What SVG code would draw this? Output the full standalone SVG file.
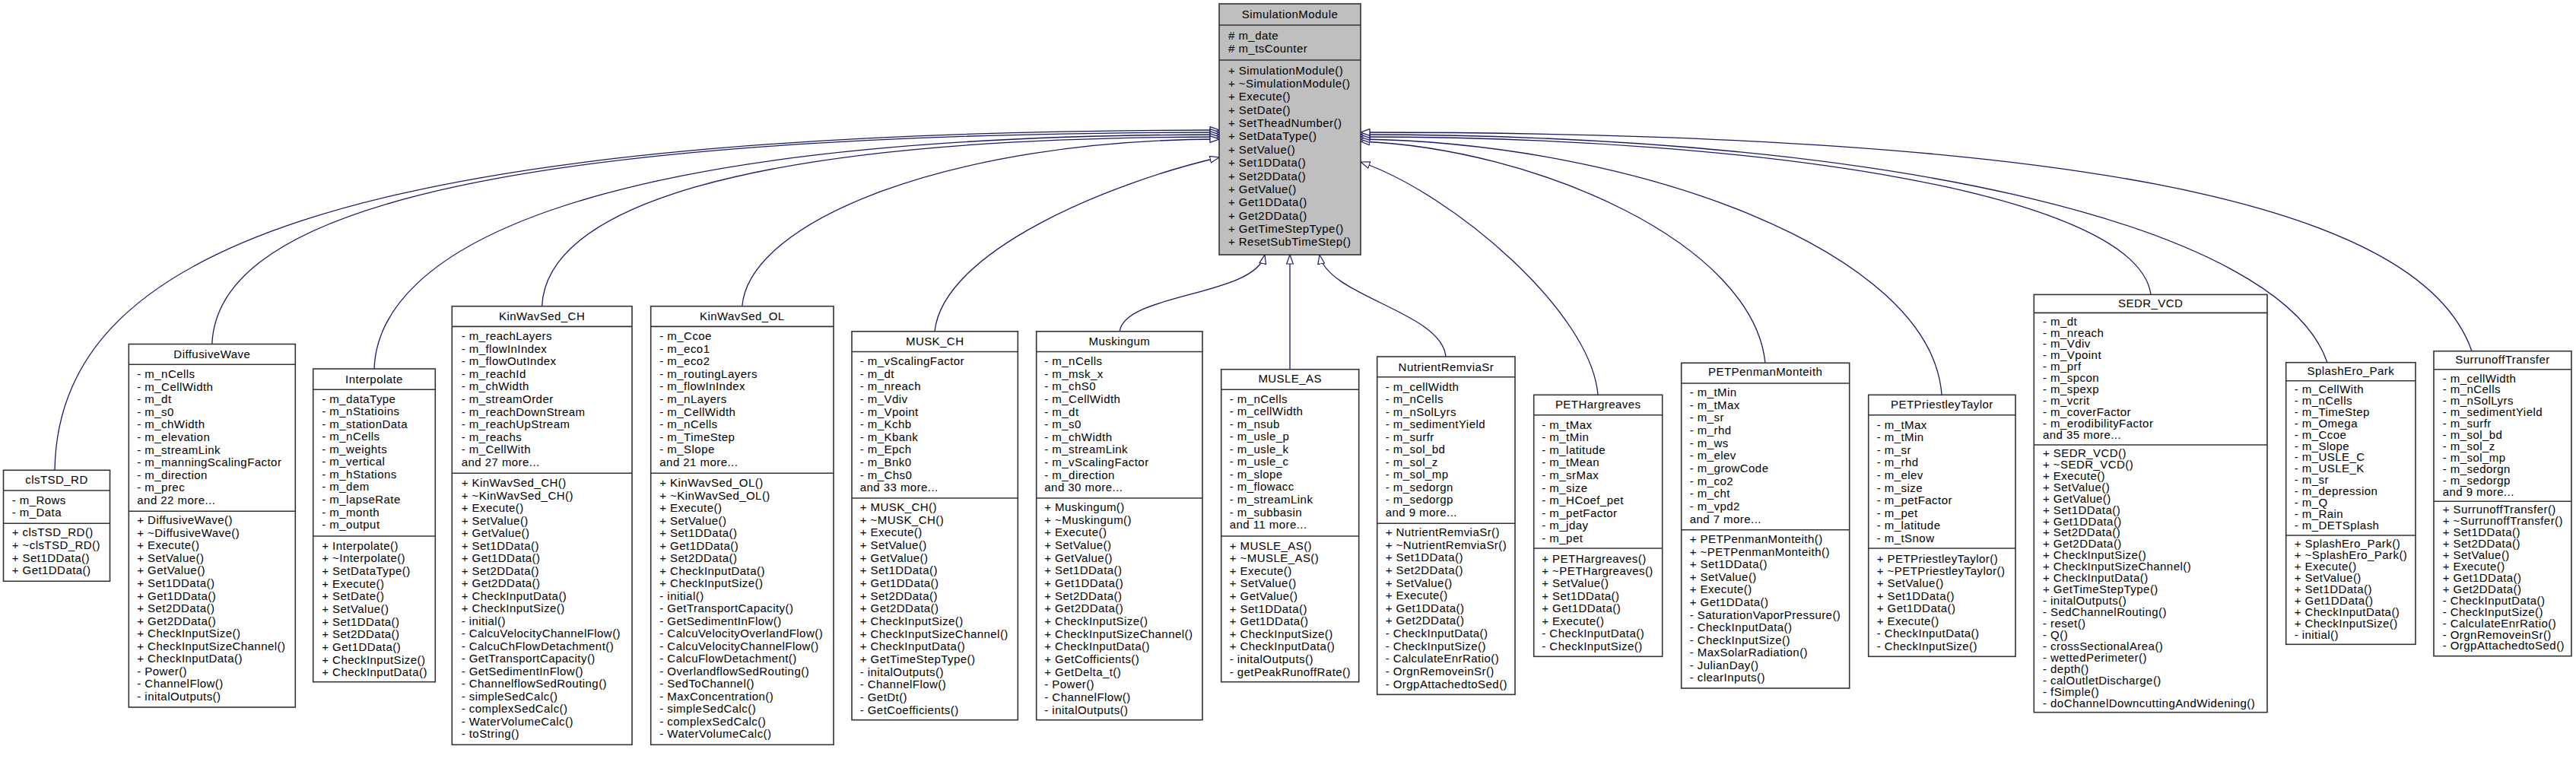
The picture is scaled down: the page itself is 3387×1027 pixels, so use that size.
<svg xmlns="http://www.w3.org/2000/svg" width="3387" height="1027" viewBox="0 0 3387 1027">
<style>
.t{font-family:"Liberation Sans",Arial,Helvetica,sans-serif;font-size:15px;letter-spacing:0.45px;fill:#000}
.c{text-anchor:middle}
.box{fill:#fff;stroke:#333;stroke-width:1.6}
.base{fill:#bfbfbf;stroke:#333;stroke-width:1.6}
.dv{stroke:#333;stroke-width:1.6}
.edge{fill:none;stroke:#191970;stroke-width:1.3;marker-end:url(#inh)}
</style>
<defs>
<marker id="inh" viewBox="0 0 13 10" refX="12.5" refY="5" markerWidth="13" markerHeight="10" markerUnits="userSpaceOnUse" orient="auto">
<path d="M0.5,0.6 L12.5,5 L0.5,9.4 Z" fill="#fff" stroke="#191970" stroke-width="1.2"/>
</marker>
</defs>
<rect width="3387" height="1027" fill="#fff"/>
<g id="connectors">
<path class="edge" d="M72,618.3 C76,340 420,172 1603,171"/>
<path class="edge" d="M278.8,452.5 C285,300 560,175 1603,174"/>
<path class="edge" d="M492,485 C498,330 760,178 1603,177"/>
<path class="edge" d="M712.6,402.7 C718,280 950,181 1603,180"/>
<path class="edge" d="M975.8,402.7 C985,290 1250,184 1603,183"/>
<path class="edge" d="M1229,435.8 C1240,330 1460,240 1603,207"/>
<path class="edge" d="M1472,435.8 C1480,385 1650,390 1663,335"/>
<path class="edge" d="M1696,485.7 L1696,335"/>
<path class="edge" d="M1901,469 C1896,410 1745,390 1735,335"/>
<path class="edge" d="M2101,519.3 C2092,410 1910,255 1789,213"/>
<path class="edge" d="M2321,477.3 C2305,320 2020,195 1789,186"/>
<path class="edge" d="M2553,519.3 C2540,330 2150,188 1789,183"/>
<path class="edge" d="M2828,387.4 C2810,255 2320,180 1789,180"/>
<path class="edge" d="M3060,476.7 C3000,300 2500,177 1789,177"/>
<path class="edge" d="M3250,461.7 C3180,260 2700,174 1789,174"/>
</g>
<g id="SimulationModule">
<rect class="base" x="1603" y="5" width="186" height="330"/>
<line class="dv" x1="1603" y1="33" x2="1789" y2="33"/>
<line class="dv" x1="1603" y1="79" x2="1789" y2="79"/>
<text class="t c" x="1696" y="24.2">SimulationModule</text>
<text class="t" x="1615" y="51.9"><tspan x="1615"># m_date</tspan><tspan x="1615" dy="16.8"># m_tsCounter</tspan></text>
<text class="t" x="1615" y="97.5"><tspan x="1615">+ SimulationModule()</tspan><tspan x="1615" dy="17.38">+ ~SimulationModule()</tspan><tspan x="1615" dy="17.38">+ Execute()</tspan><tspan x="1615" dy="17.38">+ SetDate()</tspan><tspan x="1615" dy="17.38">+ SetTheadNumber()</tspan><tspan x="1615" dy="17.38">+ SetDataType()</tspan><tspan x="1615" dy="17.38">+ SetValue()</tspan><tspan x="1615" dy="17.38">+ Set1DData()</tspan><tspan x="1615" dy="17.38">+ Set2DData()</tspan><tspan x="1615" dy="17.38">+ GetValue()</tspan><tspan x="1615" dy="17.38">+ Get1DData()</tspan><tspan x="1615" dy="17.38">+ Get2DData()</tspan><tspan x="1615" dy="17.38">+ GetTimeStepType()</tspan><tspan x="1615" dy="17.38">+ ResetSubTimeStep()</tspan></text>
</g>
<g id="clsTSD_RD">
<rect class="box" x="4.5" y="618.3" width="140" height="146"/>
<line class="dv" x1="4.5" y1="645" x2="144.5" y2="645"/>
<line class="dv" x1="4.5" y1="688.3" x2="144.5" y2="688.3"/>
<text class="t c" x="74.5" y="635.9">clsTSD_RD</text>
<text class="t" x="15.7" y="662.9"><tspan x="15.7">- m_Rows</tspan><tspan x="15.7" dy="16.4">- m_Data</tspan></text>
<text class="t" x="15.7" y="705.2"><tspan x="15.7">+ clsTSD_RD()</tspan><tspan x="15.7" dy="16.67">+ ~clsTSD_RD()</tspan><tspan x="15.7" dy="16.67">+ Set1DData()</tspan><tspan x="15.7" dy="16.67">+ Get1DData()</tspan></text>
</g>
<g id="DiffusiveWave">
<rect class="box" x="169.3" y="452.5" width="219" height="477.5"/>
<line class="dv" x1="169.3" y1="479.2" x2="388.3" y2="479.2"/>
<line class="dv" x1="169.3" y1="672.3" x2="388.3" y2="672.3"/>
<text class="t c" x="278.8" y="470.5">DiffusiveWave</text>
<text class="t" x="180.3" y="496.9"><tspan x="180.3">- m_nCells</tspan><tspan x="180.3" dy="16.6">- m_CellWidth</tspan><tspan x="180.3" dy="16.6">- m_dt</tspan><tspan x="180.3" dy="16.6">- m_s0</tspan><tspan x="180.3" dy="16.6">- m_chWidth</tspan><tspan x="180.3" dy="16.6">- m_elevation</tspan><tspan x="180.3" dy="16.6">- m_streamLink</tspan><tspan x="180.3" dy="16.6">- m_manningScalingFactor</tspan><tspan x="180.3" dy="16.6">- m_direction</tspan><tspan x="180.3" dy="16.6">- m_prec</tspan><tspan x="180.3" dy="16.6">and 22 more...</tspan></text>
<text class="t" x="180.3" y="689.2"><tspan x="180.3">+ DiffusiveWave()</tspan><tspan x="180.3" dy="16.55">+ ~DiffusiveWave()</tspan><tspan x="180.3" dy="16.55">+ Execute()</tspan><tspan x="180.3" dy="16.55">+ SetValue()</tspan><tspan x="180.3" dy="16.55">+ GetValue()</tspan><tspan x="180.3" dy="16.55">+ Set1DData()</tspan><tspan x="180.3" dy="16.55">+ Get1DData()</tspan><tspan x="180.3" dy="16.55">+ Set2DData()</tspan><tspan x="180.3" dy="16.55">+ Get2DData()</tspan><tspan x="180.3" dy="16.55">+ CheckInputSize()</tspan><tspan x="180.3" dy="16.55">+ CheckInputSizeChannel()</tspan><tspan x="180.3" dy="16.55">+ CheckInputData()</tspan><tspan x="180.3" dy="16.55">- Power()</tspan><tspan x="180.3" dy="16.55">- ChannelFlow()</tspan><tspan x="180.3" dy="16.55">- initalOutputs()</tspan></text>
</g>
<g id="Interpolate">
<rect class="box" x="411.7" y="485" width="160.6" height="411.7"/>
<line class="dv" x1="411.7" y1="512.3" x2="572.3" y2="512.3"/>
<line class="dv" x1="411.7" y1="705" x2="572.3" y2="705"/>
<text class="t c" x="492" y="503.5">Interpolate</text>
<text class="t" x="423.3" y="529.5"><tspan x="423.3">- m_dataType</tspan><tspan x="423.3" dy="16.57">- m_nStatioins</tspan><tspan x="423.3" dy="16.57">- m_stationData</tspan><tspan x="423.3" dy="16.57">- m_nCells</tspan><tspan x="423.3" dy="16.57">- m_weights</tspan><tspan x="423.3" dy="16.57">- m_vertical</tspan><tspan x="423.3" dy="16.57">- m_hStations</tspan><tspan x="423.3" dy="16.57">- m_dem</tspan><tspan x="423.3" dy="16.57">- m_lapseRate</tspan><tspan x="423.3" dy="16.57">- m_month</tspan><tspan x="423.3" dy="16.57">- m_output</tspan></text>
<text class="t" x="423.3" y="722.5"><tspan x="423.3">+ Interpolate()</tspan><tspan x="423.3" dy="16.67">+ ~Interpolate()</tspan><tspan x="423.3" dy="16.67">+ SetDataType()</tspan><tspan x="423.3" dy="16.67">+ Execute()</tspan><tspan x="423.3" dy="16.67">+ SetDate()</tspan><tspan x="423.3" dy="16.67">+ SetValue()</tspan><tspan x="423.3" dy="16.67">+ Set1DData()</tspan><tspan x="423.3" dy="16.67">+ Set2DData()</tspan><tspan x="423.3" dy="16.67">+ Get1DData()</tspan><tspan x="423.3" dy="16.67">+ CheckInputSize()</tspan><tspan x="423.3" dy="16.67">+ CheckInputData()</tspan></text>
</g>
<g id="KinWavSed_CH">
<rect class="box" x="594.3" y="402.7" width="236.7" height="576.6"/>
<line class="dv" x1="594.3" y1="429.4" x2="831" y2="429.4"/>
<line class="dv" x1="594.3" y1="622.3" x2="831" y2="622.3"/>
<text class="t c" x="712.6" y="420.8">KinWavSed_CH</text>
<text class="t" x="606.7" y="447.2"><tspan x="606.7">- m_reachLayers</tspan><tspan x="606.7" dy="16.57">- m_flowInIndex</tspan><tspan x="606.7" dy="16.57">- m_flowOutIndex</tspan><tspan x="606.7" dy="16.57">- m_reachId</tspan><tspan x="606.7" dy="16.57">- m_chWidth</tspan><tspan x="606.7" dy="16.57">- m_streamOrder</tspan><tspan x="606.7" dy="16.57">- m_reachDownStream</tspan><tspan x="606.7" dy="16.57">- m_reachUpStream</tspan><tspan x="606.7" dy="16.57">- m_reachs</tspan><tspan x="606.7" dy="16.57">- m_CellWith</tspan><tspan x="606.7" dy="16.57">and 27 more...</tspan></text>
<text class="t" x="606.7" y="640.2"><tspan x="606.7">+ KinWavSed_CH()</tspan><tspan x="606.7" dy="16.5">+ ~KinWavSed_CH()</tspan><tspan x="606.7" dy="16.5">+ Execute()</tspan><tspan x="606.7" dy="16.5">+ SetValue()</tspan><tspan x="606.7" dy="16.5">+ GetValue()</tspan><tspan x="606.7" dy="16.5">+ Set1DData()</tspan><tspan x="606.7" dy="16.5">+ Get1DData()</tspan><tspan x="606.7" dy="16.5">+ Set2DData()</tspan><tspan x="606.7" dy="16.5">+ Get2DData()</tspan><tspan x="606.7" dy="16.5">+ CheckInputData()</tspan><tspan x="606.7" dy="16.5">+ CheckInputSize()</tspan><tspan x="606.7" dy="16.5">- initial()</tspan><tspan x="606.7" dy="16.5">- CalcuVelocityChannelFlow()</tspan><tspan x="606.7" dy="16.5">- CalcuChFlowDetachment()</tspan><tspan x="606.7" dy="16.5">- GetTransportCapacity()</tspan><tspan x="606.7" dy="16.5">- GetSedimentInFlow()</tspan><tspan x="606.7" dy="16.5">- ChannelflowSedRouting()</tspan><tspan x="606.7" dy="16.5">- simpleSedCalc()</tspan><tspan x="606.7" dy="16.5">- complexSedCalc()</tspan><tspan x="606.7" dy="16.5">- WaterVolumeCalc()</tspan><tspan x="606.7" dy="16.5">- toString()</tspan></text>
</g>
<g id="KinWavSed_OL">
<rect class="box" x="855.7" y="402.7" width="240.3" height="576.6"/>
<line class="dv" x1="855.7" y1="429.4" x2="1096" y2="429.4"/>
<line class="dv" x1="855.7" y1="622.3" x2="1096" y2="622.3"/>
<text class="t c" x="975.8" y="420.8">KinWavSed_OL</text>
<text class="t" x="867.3" y="447.2"><tspan x="867.3">- m_Ccoe</tspan><tspan x="867.3" dy="16.57">- m_eco1</tspan><tspan x="867.3" dy="16.57">- m_eco2</tspan><tspan x="867.3" dy="16.57">- m_routingLayers</tspan><tspan x="867.3" dy="16.57">- m_flowInIndex</tspan><tspan x="867.3" dy="16.57">- m_nLayers</tspan><tspan x="867.3" dy="16.57">- m_CellWidth</tspan><tspan x="867.3" dy="16.57">- m_nCells</tspan><tspan x="867.3" dy="16.57">- m_TimeStep</tspan><tspan x="867.3" dy="16.57">- m_Slope</tspan><tspan x="867.3" dy="16.57">and 21 more...</tspan></text>
<text class="t" x="867.3" y="640.2"><tspan x="867.3">+ KinWavSed_OL()</tspan><tspan x="867.3" dy="16.5">+ ~KinWavSed_OL()</tspan><tspan x="867.3" dy="16.5">+ Execute()</tspan><tspan x="867.3" dy="16.5">+ SetValue()</tspan><tspan x="867.3" dy="16.5">+ Set1DData()</tspan><tspan x="867.3" dy="16.5">+ Get1DData()</tspan><tspan x="867.3" dy="16.5">+ Set2DData()</tspan><tspan x="867.3" dy="16.5">+ CheckInputData()</tspan><tspan x="867.3" dy="16.5">+ CheckInputSize()</tspan><tspan x="867.3" dy="16.5">- initial()</tspan><tspan x="867.3" dy="16.5">- GetTransportCapacity()</tspan><tspan x="867.3" dy="16.5">- GetSedimentInFlow()</tspan><tspan x="867.3" dy="16.5">- CalcuVelocityOverlandFlow()</tspan><tspan x="867.3" dy="16.5">- CalcuVelocityChannelFlow()</tspan><tspan x="867.3" dy="16.5">- CalcuFlowDetachment()</tspan><tspan x="867.3" dy="16.5">- OverlandflowSedRouting()</tspan><tspan x="867.3" dy="16.5">- SedToChannel()</tspan><tspan x="867.3" dy="16.5">- MaxConcentration()</tspan><tspan x="867.3" dy="16.5">- simpleSedCalc()</tspan><tspan x="867.3" dy="16.5">- complexSedCalc()</tspan><tspan x="867.3" dy="16.5">- WaterVolumeCalc()</tspan></text>
</g>
<g id="MUSK_CH">
<rect class="box" x="1120" y="435.8" width="218.3" height="510.9"/>
<line class="dv" x1="1120" y1="462.5" x2="1338.3" y2="462.5"/>
<line class="dv" x1="1120" y1="655" x2="1338.3" y2="655"/>
<text class="t c" x="1229.2" y="453.9">MUSK_CH</text>
<text class="t" x="1130.7" y="480.2"><tspan x="1130.7">- m_vScalingFactor</tspan><tspan x="1130.7" dy="16.6">- m_dt</tspan><tspan x="1130.7" dy="16.6">- m_nreach</tspan><tspan x="1130.7" dy="16.6">- m_Vdiv</tspan><tspan x="1130.7" dy="16.6">- m_Vpoint</tspan><tspan x="1130.7" dy="16.6">- m_Kchb</tspan><tspan x="1130.7" dy="16.6">- m_Kbank</tspan><tspan x="1130.7" dy="16.6">- m_Epch</tspan><tspan x="1130.7" dy="16.6">- m_Bnk0</tspan><tspan x="1130.7" dy="16.6">- m_Chs0</tspan><tspan x="1130.7" dy="16.6">and 33 more...</tspan></text>
<text class="t" x="1130.7" y="671.9"><tspan x="1130.7">+ MUSK_CH()</tspan><tspan x="1130.7" dy="16.67">+ ~MUSK_CH()</tspan><tspan x="1130.7" dy="16.67">+ Execute()</tspan><tspan x="1130.7" dy="16.67">+ SetValue()</tspan><tspan x="1130.7" dy="16.67">+ GetValue()</tspan><tspan x="1130.7" dy="16.67">+ Set1DData()</tspan><tspan x="1130.7" dy="16.67">+ Get1DData()</tspan><tspan x="1130.7" dy="16.67">+ Set2DData()</tspan><tspan x="1130.7" dy="16.67">+ Get2DData()</tspan><tspan x="1130.7" dy="16.67">+ CheckInputSize()</tspan><tspan x="1130.7" dy="16.67">+ CheckInputSizeChannel()</tspan><tspan x="1130.7" dy="16.67">+ CheckInputData()</tspan><tspan x="1130.7" dy="16.67">+ GetTimeStepType()</tspan><tspan x="1130.7" dy="16.67">- initalOutputs()</tspan><tspan x="1130.7" dy="16.67">- ChannelFlow()</tspan><tspan x="1130.7" dy="16.67">- GetDt()</tspan><tspan x="1130.7" dy="16.67">- GetCoefficients()</tspan></text>
</g>
<g id="Muskingum">
<rect class="box" x="1362.7" y="435.8" width="218.3" height="510.9"/>
<line class="dv" x1="1362.7" y1="462.5" x2="1581" y2="462.5"/>
<line class="dv" x1="1362.7" y1="655" x2="1581" y2="655"/>
<text class="t c" x="1471.9" y="453.9">Muskingum</text>
<text class="t" x="1373.3" y="480.2"><tspan x="1373.3">- m_nCells</tspan><tspan x="1373.3" dy="16.6">- m_msk_x</tspan><tspan x="1373.3" dy="16.6">- m_chS0</tspan><tspan x="1373.3" dy="16.6">- m_CellWidth</tspan><tspan x="1373.3" dy="16.6">- m_dt</tspan><tspan x="1373.3" dy="16.6">- m_s0</tspan><tspan x="1373.3" dy="16.6">- m_chWidth</tspan><tspan x="1373.3" dy="16.6">- m_streamLink</tspan><tspan x="1373.3" dy="16.6">- m_vScalingFactor</tspan><tspan x="1373.3" dy="16.6">- m_direction</tspan><tspan x="1373.3" dy="16.6">and 30 more...</tspan></text>
<text class="t" x="1373.3" y="671.9"><tspan x="1373.3">+ Muskingum()</tspan><tspan x="1373.3" dy="16.67">+ ~Muskingum()</tspan><tspan x="1373.3" dy="16.67">+ Execute()</tspan><tspan x="1373.3" dy="16.67">+ SetValue()</tspan><tspan x="1373.3" dy="16.67">+ GetValue()</tspan><tspan x="1373.3" dy="16.67">+ Set1DData()</tspan><tspan x="1373.3" dy="16.67">+ Get1DData()</tspan><tspan x="1373.3" dy="16.67">+ Set2DData()</tspan><tspan x="1373.3" dy="16.67">+ Get2DData()</tspan><tspan x="1373.3" dy="16.67">+ CheckInputSize()</tspan><tspan x="1373.3" dy="16.67">+ CheckInputSizeChannel()</tspan><tspan x="1373.3" dy="16.67">+ CheckInputData()</tspan><tspan x="1373.3" dy="16.67">+ GetCofficients()</tspan><tspan x="1373.3" dy="16.67">+ GetDelta_t()</tspan><tspan x="1373.3" dy="16.67">- Power()</tspan><tspan x="1373.3" dy="16.67">- ChannelFlow()</tspan><tspan x="1373.3" dy="16.67">- initalOutputs()</tspan></text>
</g>
<g id="MUSLE_AS">
<rect class="box" x="1605.7" y="485.7" width="181" height="411"/>
<line class="dv" x1="1605.7" y1="512.3" x2="1786.7" y2="512.3"/>
<line class="dv" x1="1605.7" y1="705" x2="1786.7" y2="705"/>
<text class="t c" x="1696.2" y="502.9">MUSLE_AS</text>
<text class="t" x="1616.7" y="529.5"><tspan x="1616.7">- m_nCells</tspan><tspan x="1616.7" dy="16.57">- m_cellWidth</tspan><tspan x="1616.7" dy="16.57">- m_nsub</tspan><tspan x="1616.7" dy="16.57">- m_usle_p</tspan><tspan x="1616.7" dy="16.57">- m_usle_k</tspan><tspan x="1616.7" dy="16.57">- m_usle_c</tspan><tspan x="1616.7" dy="16.57">- m_slope</tspan><tspan x="1616.7" dy="16.57">- m_flowacc</tspan><tspan x="1616.7" dy="16.57">- m_streamLink</tspan><tspan x="1616.7" dy="16.57">- m_subbasin</tspan><tspan x="1616.7" dy="16.57">and 11 more...</tspan></text>
<text class="t" x="1616.7" y="722.5"><tspan x="1616.7">+ MUSLE_AS()</tspan><tspan x="1616.7" dy="16.6">+ ~MUSLE_AS()</tspan><tspan x="1616.7" dy="16.6">+ Execute()</tspan><tspan x="1616.7" dy="16.6">+ SetValue()</tspan><tspan x="1616.7" dy="16.6">+ GetValue()</tspan><tspan x="1616.7" dy="16.6">+ Set1DData()</tspan><tspan x="1616.7" dy="16.6">+ Get1DData()</tspan><tspan x="1616.7" dy="16.6">+ CheckInputSize()</tspan><tspan x="1616.7" dy="16.6">+ CheckInputData()</tspan><tspan x="1616.7" dy="16.6">- initalOutputs()</tspan><tspan x="1616.7" dy="16.6">- getPeakRunoffRate()</tspan></text>
</g>
<g id="NutrientRemviaSr">
<rect class="box" x="1810.7" y="469" width="181.3" height="444.3"/>
<line class="dv" x1="1810.7" y1="495.7" x2="1992" y2="495.7"/>
<line class="dv" x1="1810.7" y1="688.3" x2="1992" y2="688.3"/>
<text class="t c" x="1901.4" y="487.9">NutrientRemviaSr</text>
<text class="t" x="1821.7" y="513.5"><tspan x="1821.7">- m_cellWidth</tspan><tspan x="1821.7" dy="16.5">- m_nCells</tspan><tspan x="1821.7" dy="16.5">- m_nSolLyrs</tspan><tspan x="1821.7" dy="16.5">- m_sedimentYield</tspan><tspan x="1821.7" dy="16.5">- m_surfr</tspan><tspan x="1821.7" dy="16.5">- m_sol_bd</tspan><tspan x="1821.7" dy="16.5">- m_sol_z</tspan><tspan x="1821.7" dy="16.5">- m_sol_mp</tspan><tspan x="1821.7" dy="16.5">- m_sedorgn</tspan><tspan x="1821.7" dy="16.5">- m_sedorgp</tspan><tspan x="1821.7" dy="16.5">and 9 more...</tspan></text>
<text class="t" x="1821.7" y="705.2"><tspan x="1821.7">+ NutrientRemviaSr()</tspan><tspan x="1821.7" dy="16.61">+ ~NutrientRemviaSr()</tspan><tspan x="1821.7" dy="16.61">+ Set1DData()</tspan><tspan x="1821.7" dy="16.61">+ Set2DData()</tspan><tspan x="1821.7" dy="16.61">+ SetValue()</tspan><tspan x="1821.7" dy="16.61">+ Execute()</tspan><tspan x="1821.7" dy="16.61">+ Get1DData()</tspan><tspan x="1821.7" dy="16.61">+ Get2DData()</tspan><tspan x="1821.7" dy="16.61">- CheckInputData()</tspan><tspan x="1821.7" dy="16.61">- CheckInputSize()</tspan><tspan x="1821.7" dy="16.61">- CalculateEnrRatio()</tspan><tspan x="1821.7" dy="16.61">- OrgnRemoveinSr()</tspan><tspan x="1821.7" dy="16.61">- OrgpAttachedtoSed()</tspan></text>
</g>
<g id="PETHargreaves">
<rect class="box" x="2016.7" y="519.3" width="169" height="344"/>
<line class="dv" x1="2016.7" y1="545.7" x2="2185.7" y2="545.7"/>
<line class="dv" x1="2016.7" y1="721" x2="2185.7" y2="721"/>
<text class="t c" x="2101.2" y="536.9">PETHargreaves</text>
<text class="t" x="2027.3" y="563.5"><tspan x="2027.3">- m_tMax</tspan><tspan x="2027.3" dy="16.6">- m_tMin</tspan><tspan x="2027.3" dy="16.6">- m_latitude</tspan><tspan x="2027.3" dy="16.6">- m_tMean</tspan><tspan x="2027.3" dy="16.6">- m_srMax</tspan><tspan x="2027.3" dy="16.6">- m_size</tspan><tspan x="2027.3" dy="16.6">- m_HCoef_pet</tspan><tspan x="2027.3" dy="16.6">- m_petFactor</tspan><tspan x="2027.3" dy="16.6">- m_jday</tspan><tspan x="2027.3" dy="16.6">- m_pet</tspan></text>
<text class="t" x="2027.3" y="739.5"><tspan x="2027.3">+ PETHargreaves()</tspan><tspan x="2027.3" dy="16.43">+ ~PETHargreaves()</tspan><tspan x="2027.3" dy="16.43">+ SetValue()</tspan><tspan x="2027.3" dy="16.43">+ Set1DData()</tspan><tspan x="2027.3" dy="16.43">+ Get1DData()</tspan><tspan x="2027.3" dy="16.43">+ Execute()</tspan><tspan x="2027.3" dy="16.43">- CheckInputData()</tspan><tspan x="2027.3" dy="16.43">- CheckInputSize()</tspan></text>
</g>
<g id="PETPenmanMonteith">
<rect class="box" x="2210.7" y="477.3" width="221" height="427.7"/>
<line class="dv" x1="2210.7" y1="504" x2="2431.7" y2="504"/>
<line class="dv" x1="2210.7" y1="696.7" x2="2431.7" y2="696.7"/>
<text class="t c" x="2321.2" y="494.2">PETPenmanMonteith</text>
<text class="t" x="2221.7" y="521.2"><tspan x="2221.7">- m_tMin</tspan><tspan x="2221.7" dy="16.63">- m_tMax</tspan><tspan x="2221.7" dy="16.63">- m_sr</tspan><tspan x="2221.7" dy="16.63">- m_rhd</tspan><tspan x="2221.7" dy="16.63">- m_ws</tspan><tspan x="2221.7" dy="16.63">- m_elev</tspan><tspan x="2221.7" dy="16.63">- m_growCode</tspan><tspan x="2221.7" dy="16.63">- m_co2</tspan><tspan x="2221.7" dy="16.63">- m_cht</tspan><tspan x="2221.7" dy="16.63">- m_vpd2</tspan><tspan x="2221.7" dy="16.63">and 7 more...</tspan></text>
<text class="t" x="2221.7" y="714.2"><tspan x="2221.7">+ PETPenmanMonteith()</tspan><tspan x="2221.7" dy="16.55">+ ~PETPenmanMonteith()</tspan><tspan x="2221.7" dy="16.55">+ Set1DData()</tspan><tspan x="2221.7" dy="16.55">+ SetValue()</tspan><tspan x="2221.7" dy="16.55">+ Execute()</tspan><tspan x="2221.7" dy="16.55">+ Get1DData()</tspan><tspan x="2221.7" dy="16.55">- SaturationVaporPressure()</tspan><tspan x="2221.7" dy="16.55">- CheckInputData()</tspan><tspan x="2221.7" dy="16.55">- CheckInputSize()</tspan><tspan x="2221.7" dy="16.55">- MaxSolarRadiation()</tspan><tspan x="2221.7" dy="16.55">- JulianDay()</tspan><tspan x="2221.7" dy="16.55">- clearInputs()</tspan></text>
</g>
<g id="PETPriestleyTaylor">
<rect class="box" x="2456.7" y="519.3" width="193.3" height="344"/>
<line class="dv" x1="2456.7" y1="545.7" x2="2650" y2="545.7"/>
<line class="dv" x1="2456.7" y1="721" x2="2650" y2="721"/>
<text class="t c" x="2553.4" y="536.9">PETPriestleyTaylor</text>
<text class="t" x="2467.7" y="563.5"><tspan x="2467.7">- m_tMax</tspan><tspan x="2467.7" dy="16.6">- m_tMin</tspan><tspan x="2467.7" dy="16.6">- m_sr</tspan><tspan x="2467.7" dy="16.6">- m_rhd</tspan><tspan x="2467.7" dy="16.6">- m_elev</tspan><tspan x="2467.7" dy="16.6">- m_size</tspan><tspan x="2467.7" dy="16.6">- m_petFactor</tspan><tspan x="2467.7" dy="16.6">- m_pet</tspan><tspan x="2467.7" dy="16.6">- m_latitude</tspan><tspan x="2467.7" dy="16.6">- m_tSnow</tspan></text>
<text class="t" x="2467.7" y="739.5"><tspan x="2467.7">+ PETPriestleyTaylor()</tspan><tspan x="2467.7" dy="16.43">+ ~PETPriestleyTaylor()</tspan><tspan x="2467.7" dy="16.43">+ SetValue()</tspan><tspan x="2467.7" dy="16.43">+ Set1DData()</tspan><tspan x="2467.7" dy="16.43">+ Get1DData()</tspan><tspan x="2467.7" dy="16.43">+ Execute()</tspan><tspan x="2467.7" dy="16.43">- CheckInputData()</tspan><tspan x="2467.7" dy="16.43">- CheckInputSize()</tspan></text>
</g>
<g id="SEDR_VCD">
<rect class="box" x="2674.3" y="387.4" width="306.7" height="549.3"/>
<line class="dv" x1="2674.3" y1="411.4" x2="2981" y2="411.4"/>
<line class="dv" x1="2674.3" y1="585" x2="2981" y2="585"/>
<text class="t c" x="2827.7" y="403.6">SEDR_VCD</text>
<text class="t" x="2686" y="427.6"><tspan x="2686">- m_dt</tspan><tspan x="2686" dy="14.93">- m_nreach</tspan><tspan x="2686" dy="14.93">- m_Vdiv</tspan><tspan x="2686" dy="14.93">- m_Vpoint</tspan><tspan x="2686" dy="14.93">- m_prf</tspan><tspan x="2686" dy="14.93">- m_spcon</tspan><tspan x="2686" dy="14.93">- m_spexp</tspan><tspan x="2686" dy="14.93">- m_vcrit</tspan><tspan x="2686" dy="14.93">- m_coverFactor</tspan><tspan x="2686" dy="14.93">- m_erodibilityFactor</tspan><tspan x="2686" dy="14.93">and 35 more...</tspan></text>
<text class="t" x="2686" y="600.9"><tspan x="2686">+ SEDR_VCD()</tspan><tspan x="2686" dy="14.94">+ ~SEDR_VCD()</tspan><tspan x="2686" dy="14.94">+ Execute()</tspan><tspan x="2686" dy="14.94">+ SetValue()</tspan><tspan x="2686" dy="14.94">+ GetValue()</tspan><tspan x="2686" dy="14.94">+ Set1DData()</tspan><tspan x="2686" dy="14.94">+ Get1DData()</tspan><tspan x="2686" dy="14.94">+ Set2DData()</tspan><tspan x="2686" dy="14.94">+ Get2DData()</tspan><tspan x="2686" dy="14.94">+ CheckInputSize()</tspan><tspan x="2686" dy="14.94">+ CheckInputSizeChannel()</tspan><tspan x="2686" dy="14.94">+ CheckInputData()</tspan><tspan x="2686" dy="14.94">+ GetTimeStepType()</tspan><tspan x="2686" dy="14.94">- initalOutputs()</tspan><tspan x="2686" dy="14.94">- SedChannelRouting()</tspan><tspan x="2686" dy="14.94">- reset()</tspan><tspan x="2686" dy="14.94">- Q()</tspan><tspan x="2686" dy="14.94">- crossSectionalArea()</tspan><tspan x="2686" dy="14.94">- wettedPerimeter()</tspan><tspan x="2686" dy="14.94">- depth()</tspan><tspan x="2686" dy="14.94">- calOutletDischarge()</tspan><tspan x="2686" dy="14.94">- fSimple()</tspan><tspan x="2686" dy="14.94">- doChannelDowncuttingAndWidening()</tspan></text>
</g>
<g id="SplashEro_Park">
<rect class="box" x="3005.7" y="476.7" width="170.3" height="370.6"/>
<line class="dv" x1="3005.7" y1="500.7" x2="3176" y2="500.7"/>
<line class="dv" x1="3005.7" y1="704" x2="3176" y2="704"/>
<text class="t c" x="3090.9" y="492.9">SplashEro_Park</text>
<text class="t" x="3016.7" y="516.9"><tspan x="3016.7">- m_CellWith</tspan><tspan x="3016.7" dy="14.92">- m_nCells</tspan><tspan x="3016.7" dy="14.92">- m_TimeStep</tspan><tspan x="3016.7" dy="14.92">- m_Omega</tspan><tspan x="3016.7" dy="14.92">- m_Ccoe</tspan><tspan x="3016.7" dy="14.92">- m_Slope</tspan><tspan x="3016.7" dy="14.92">- m_USLE_C</tspan><tspan x="3016.7" dy="14.92">- m_USLE_K</tspan><tspan x="3016.7" dy="14.92">- m_sr</tspan><tspan x="3016.7" dy="14.92">- m_depression</tspan><tspan x="3016.7" dy="14.92">- m_Q</tspan><tspan x="3016.7" dy="14.92">- m_Rain</tspan><tspan x="3016.7" dy="14.92">- m_DETSplash</tspan></text>
<text class="t" x="3016.7" y="720.2"><tspan x="3016.7">+ SplashEro_Park()</tspan><tspan x="3016.7" dy="15">+ ~SplashEro_Park()</tspan><tspan x="3016.7" dy="15">+ Execute()</tspan><tspan x="3016.7" dy="15">+ SetValue()</tspan><tspan x="3016.7" dy="15">+ Set1DData()</tspan><tspan x="3016.7" dy="15">+ Get1DData()</tspan><tspan x="3016.7" dy="15">+ CheckInputData()</tspan><tspan x="3016.7" dy="15">+ CheckInputSize()</tspan><tspan x="3016.7" dy="15">- initial()</tspan></text>
</g>
<g id="SurrunoffTransfer">
<rect class="box" x="3200" y="461.7" width="181" height="401"/>
<line class="dv" x1="3200" y1="485.7" x2="3381" y2="485.7"/>
<line class="dv" x1="3200" y1="659.3" x2="3381" y2="659.3"/>
<text class="t c" x="3290.5" y="477.9">SurrunoffTransfer</text>
<text class="t" x="3211.7" y="502.5"><tspan x="3211.7">- m_cellWidth</tspan><tspan x="3211.7" dy="14.94">- m_nCells</tspan><tspan x="3211.7" dy="14.94">- m_nSolLyrs</tspan><tspan x="3211.7" dy="14.94">- m_sedimentYield</tspan><tspan x="3211.7" dy="14.94">- m_surfr</tspan><tspan x="3211.7" dy="14.94">- m_sol_bd</tspan><tspan x="3211.7" dy="14.94">- m_sol_z</tspan><tspan x="3211.7" dy="14.94">- m_sol_mp</tspan><tspan x="3211.7" dy="14.94">- m_sedorgn</tspan><tspan x="3211.7" dy="14.94">- m_sedorgp</tspan><tspan x="3211.7" dy="14.94">and 9 more...</tspan></text>
<text class="t" x="3211.7" y="675.2"><tspan x="3211.7">+ SurrunoffTransfer()</tspan><tspan x="3211.7" dy="14.94">+ ~SurrunoffTransfer()</tspan><tspan x="3211.7" dy="14.94">+ Set1DData()</tspan><tspan x="3211.7" dy="14.94">+ Set2DData()</tspan><tspan x="3211.7" dy="14.94">+ SetValue()</tspan><tspan x="3211.7" dy="14.94">+ Execute()</tspan><tspan x="3211.7" dy="14.94">+ Get1DData()</tspan><tspan x="3211.7" dy="14.94">+ Get2DData()</tspan><tspan x="3211.7" dy="14.94">- CheckInputData()</tspan><tspan x="3211.7" dy="14.94">- CheckInputSize()</tspan><tspan x="3211.7" dy="14.94">- CalculateEnrRatio()</tspan><tspan x="3211.7" dy="14.94">- OrgnRemoveinSr()</tspan><tspan x="3211.7" dy="14.94">- OrgpAttachedtoSed()</tspan></text>
</g>
</svg>
